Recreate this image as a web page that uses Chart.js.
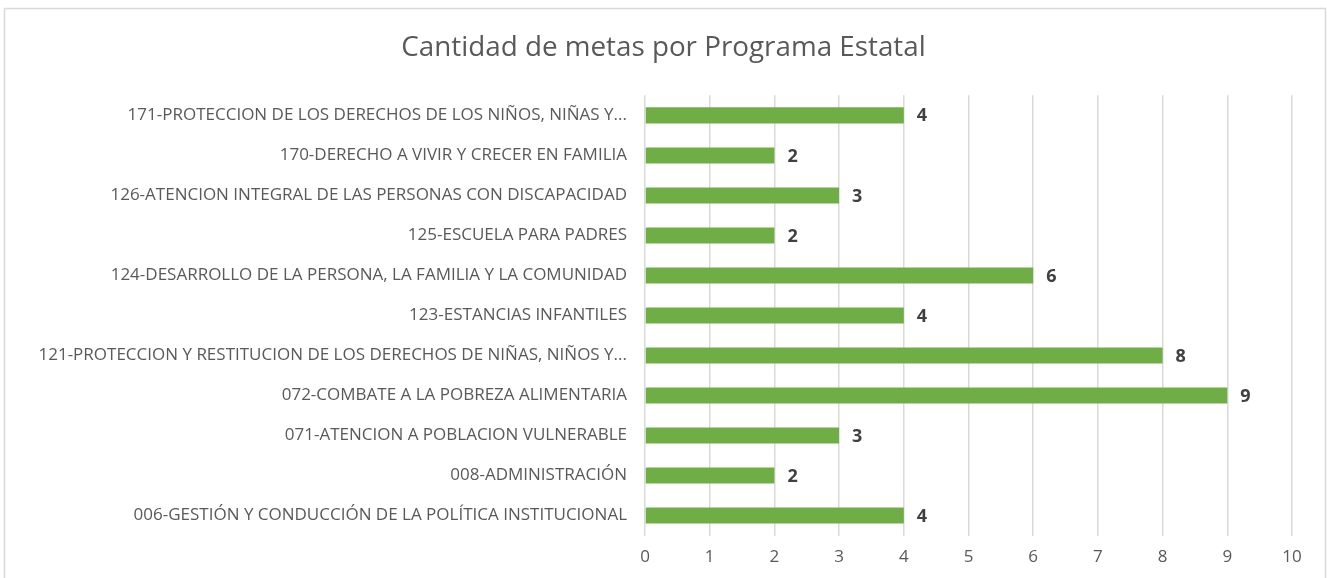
<!DOCTYPE html>
<html>
<head>
<meta charset="utf-8">
<script src="https://cdn.jsdelivr.net/npm/chart.js@4"></script>
<style>
html,body{margin:0;padding:0;background:#fff;}
#wrap{position:relative;width:1327px;height:578px;}
</style>
</head>
<body>
<div id="wrap"><canvas id="c" width="1327" height="578"></canvas></div>
<script>
const categories = [
  "171-PROTECCION DE LOS DERECHOS DE LOS NIÑOS, NIÑAS Y...",
  "170-DERECHO A VIVIR Y CRECER EN FAMILIA",
  "126-ATENCION INTEGRAL DE LAS PERSONAS CON DISCAPACIDAD",
  "125-ESCUELA PARA PADRES",
  "124-DESARROLLO DE LA PERSONA, LA FAMILIA Y LA COMUNIDAD",
  "123-ESTANCIAS INFANTILES",
  "121-PROTECCION Y RESTITUCION DE LOS DERECHOS DE NIÑAS, NIÑOS Y...",
  "072-COMBATE A LA POBREZA ALIMENTARIA",
  "071-ATENCION A POBLACION VULNERABLE",
  "008-ADMINISTRACIÓN",
  "006-GESTIÓN Y CONDUCCIÓN DE LA POLÍTICA INSTITUCIONAL"
];
const metas = [4, 2, 3, 2, 6, 4, 8, 9, 3, 2, 4];
const titleText = "Cantidad de metas por Programa Estatal";
const xMin = 0, xMax = 10, xStep = 1;

const FONT = "'Open Sans', sans-serif";

const borderPlugin = {
  id: 'frame',
  beforeDraw(chart) {
    const ctx = chart.ctx;
    ctx.save();
    ctx.fillStyle = '#ffffff';
    ctx.fillRect(0, 0, chart.width, chart.height);
    ctx.strokeStyle = '#d9d9d9';
    ctx.lineWidth = 1.5;
    ctx.strokeRect(4.5, 8.5, chart.width - 6, chart.height + 20);
    ctx.restore();
  }
};

const valueLabels = {
  id: 'valueLabels',
  afterDatasetsDraw(chart) {
    const ctx = chart.ctx;
    const meta = chart.getDatasetMeta(0);
    ctx.save();
    ctx.font = "bold 18px " + FONT;
    ctx.fillStyle = '#404040';
    ctx.textAlign = 'left';
    ctx.textBaseline = 'middle';
    meta.data.forEach((bar, i) => {
      ctx.fillText(String(chart.data.datasets[0].data[i]), bar.x + 13, bar.y + 1);
    });
    ctx.restore();
  }
};

new Chart(document.getElementById('c'), {
  type: 'bar',
  data: {
    labels: categories,
    datasets: [{
      data: metas,
      backgroundColor: '#70ad47',
      borderWidth: 0,
      barPercentage: 0.8,
      categoryPercentage: 0.5
    }]
  },
  options: {
    indexAxis: 'y',
    responsive: false,
    animation: false,
    layout: { padding: { left: 35, right: 35, top: 0, bottom: 0 } },
    plugins: {
      legend: { display: false },
      tooltip: { enabled: false },
      title: {
        display: true,
        text: titleText,
        color: '#595959',
        font: { family: FONT, size: 27.8, weight: 'normal' },
        padding: { top: 31, bottom: 31 }
      }
    },
    scales: {
      x: {
        min: xMin, max: xMax,
        ticks: { stepSize: xStep, color: '#595959', font: { family: FONT, size: 17 }, padding: 11 },
        grid: { color: '#d9d9d9', lineWidth: 1.5, drawTicks: false },
        border: { display: false }
      },
      y: {
        ticks: { color: '#595959', font: { family: FONT, size: 17 }, padding: 18, autoSkip: false },
        grid: { display: false, drawTicks: false },
        border: { display: false },
        afterFit(scale) { scale.width = 610; }
      }
    }
  },
  plugins: [borderPlugin, valueLabels]
});
</script>
</body>
</html>
